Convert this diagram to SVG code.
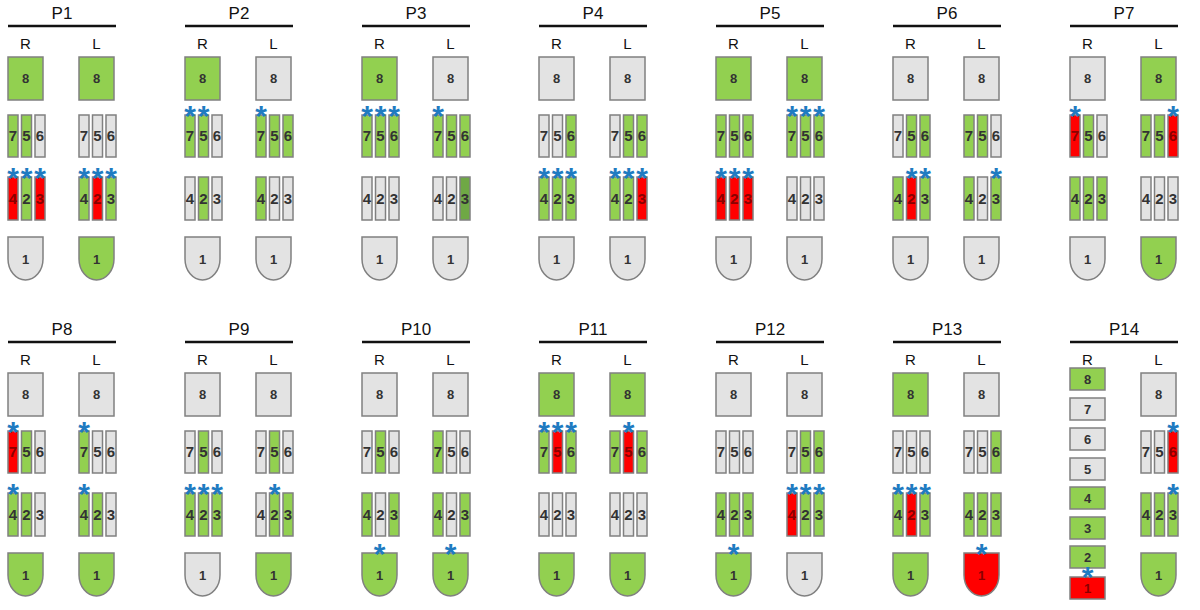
<svg xmlns="http://www.w3.org/2000/svg" width="1200" height="610" viewBox="0 0 1200 610">
<style>
rect,path{stroke:#808080;stroke-width:1.5}
.g{fill:#92d050}.e{fill:#e3e3e3}.r{fill:#ff0000}.d{fill:#6fa845}
text{font-family:"Liberation Sans",Arial,sans-serif;text-anchor:middle}
.t{font-size:17px;fill:#111}.h{font-size:15px;fill:#111}
.n{font-size:13px;font-weight:bold;fill:#333}.b{font-size:15px;font-weight:bold;fill:#333}
.nr{fill:#8a0000}
.s{font-size:30px;font-weight:bold;fill:#1f7bc1}
line{stroke:#111;stroke-width:2.5}
</style>
<defs>
<path id="one" d="M0,0h35v22a17.5,21 0 0 1 -35 0z"/>
</defs>
<g id="connectors"></g>

<g id="P1" transform="translate(8,0)">
<text class="t" x="54" y="19">P1</text><line x1="0" y1="26" x2="108" y2="26"/>
<text class="h" x="17.5" y="49">R</text><text class="h" x="88.5" y="49">L</text>
<g id="P1R"><rect class="g" x="0" y="57" width="35" height="43"/><text class="n" x="17.5" y="83">8</text>
<rect class="g" x="0" y="115" width="10" height="42"/><rect class="g" x="13.5" y="115" width="10" height="42"/><rect class="e" x="27" y="115" width="10" height="42"/>
<text class="b" x="5" y="141">7</text><text class="b" x="18.5" y="141">5</text><text class="b" x="32" y="141">6</text>
<rect class="r" x="0" y="177" width="10" height="43"/><rect class="g" x="13.5" y="177" width="10" height="43"/><rect class="r" x="27" y="177" width="10" height="43"/>
<text class="b nr" x="5" y="204">4</text><text class="b" x="18.5" y="204">2</text><text class="b nr" x="32" y="204">3</text>
<text class="s" x="5" y="188">*</text><text class="s" x="18.5" y="188">*</text><text class="s" x="32" y="188">*</text>
<use href="#one" class="e" x="0" y="237"/><text class="n" x="17.5" y="264">1</text></g>
<g id="P1L" transform="translate(71,0)"><rect class="g" x="0" y="57" width="35" height="43"/><text class="n" x="17.5" y="83">8</text>
<rect class="e" x="0" y="115" width="10" height="42"/><rect class="e" x="13.5" y="115" width="10" height="42"/><rect class="e" x="27" y="115" width="10" height="42"/>
<text class="b" x="5" y="141">7</text><text class="b" x="18.5" y="141">5</text><text class="b" x="32" y="141">6</text>
<rect class="g" x="0" y="177" width="10" height="43"/><rect class="r" x="13.5" y="177" width="10" height="43"/><rect class="g" x="27" y="177" width="10" height="43"/>
<text class="b" x="5" y="204">4</text><text class="b nr" x="18.5" y="204">2</text><text class="b" x="32" y="204">3</text>
<text class="s" x="5" y="188">*</text><text class="s" x="18.5" y="188">*</text><text class="s" x="32" y="188">*</text>
<use href="#one" class="g" x="0" y="237"/><text class="n" x="17.5" y="264">1</text></g>
</g>

<g id="P2" transform="translate(185,0)">
<text class="t" x="54" y="19">P2</text><line x1="0" y1="26" x2="108" y2="26"/>
<text class="h" x="17.5" y="49">R</text><text class="h" x="88.5" y="49">L</text>
<g id="P2R"><rect class="g" x="0" y="57" width="35" height="43"/><text class="n" x="17.5" y="83">8</text>
<rect class="g" x="0" y="115" width="10" height="42"/><rect class="g" x="13.5" y="115" width="10" height="42"/><rect class="e" x="27" y="115" width="10" height="42"/>
<text class="b" x="5" y="141">7</text><text class="b" x="18.5" y="141">5</text><text class="b" x="32" y="141">6</text>
<text class="s" x="5" y="126">*</text><text class="s" x="18.5" y="126">*</text>
<rect class="e" x="0" y="177" width="10" height="43"/><rect class="g" x="13.5" y="177" width="10" height="43"/><rect class="e" x="27" y="177" width="10" height="43"/>
<text class="b" x="5" y="204">4</text><text class="b" x="18.5" y="204">2</text><text class="b" x="32" y="204">3</text>
<use href="#one" class="e" x="0" y="237"/><text class="n" x="17.5" y="264">1</text></g>
<g id="P2L" transform="translate(71,0)"><rect class="e" x="0" y="57" width="35" height="43"/><text class="n" x="17.5" y="83">8</text>
<rect class="g" x="0" y="115" width="10" height="42"/><rect class="g" x="13.5" y="115" width="10" height="42"/><rect class="g" x="27" y="115" width="10" height="42"/>
<text class="b" x="5" y="141">7</text><text class="b" x="18.5" y="141">5</text><text class="b" x="32" y="141">6</text>
<text class="s" x="5" y="126">*</text>
<rect class="g" x="0" y="177" width="10" height="43"/><rect class="e" x="13.5" y="177" width="10" height="43"/><rect class="e" x="27" y="177" width="10" height="43"/>
<text class="b" x="5" y="204">4</text><text class="b" x="18.5" y="204">2</text><text class="b" x="32" y="204">3</text>
<use href="#one" class="e" x="0" y="237"/><text class="n" x="17.5" y="264">1</text></g>
</g>

<g id="P3" transform="translate(362,0)">
<text class="t" x="54" y="19">P3</text><line x1="0" y1="26" x2="108" y2="26"/>
<text class="h" x="17.5" y="49">R</text><text class="h" x="88.5" y="49">L</text>
<g id="P3R"><rect class="g" x="0" y="57" width="35" height="43"/><text class="n" x="17.5" y="83">8</text>
<rect class="g" x="0" y="115" width="10" height="42"/><rect class="g" x="13.5" y="115" width="10" height="42"/><rect class="g" x="27" y="115" width="10" height="42"/>
<text class="b" x="5" y="141">7</text><text class="b" x="18.5" y="141">5</text><text class="b" x="32" y="141">6</text>
<text class="s" x="5" y="126">*</text><text class="s" x="18.5" y="126">*</text><text class="s" x="32" y="126">*</text>
<rect class="e" x="0" y="177" width="10" height="43"/><rect class="e" x="13.5" y="177" width="10" height="43"/><rect class="e" x="27" y="177" width="10" height="43"/>
<text class="b" x="5" y="204">4</text><text class="b" x="18.5" y="204">2</text><text class="b" x="32" y="204">3</text>
<use href="#one" class="e" x="0" y="237"/><text class="n" x="17.5" y="264">1</text></g>
<g id="P3L" transform="translate(71,0)"><rect class="e" x="0" y="57" width="35" height="43"/><text class="n" x="17.5" y="83">8</text>
<rect class="g" x="0" y="115" width="10" height="42"/><rect class="g" x="13.5" y="115" width="10" height="42"/><rect class="g" x="27" y="115" width="10" height="42"/>
<text class="b" x="5" y="141">7</text><text class="b" x="18.5" y="141">5</text><text class="b" x="32" y="141">6</text>
<text class="s" x="5" y="126">*</text>
<rect class="e" x="0" y="177" width="10" height="43"/><rect class="e" x="13.5" y="177" width="10" height="43"/><rect class="d" x="27" y="177" width="10" height="43"/>
<text class="b" x="5" y="204">4</text><text class="b" x="18.5" y="204">2</text><text class="b" x="32" y="204">3</text>
<use href="#one" class="e" x="0" y="237"/><text class="n" x="17.5" y="264">1</text></g>
</g>

<g id="P4" transform="translate(539,0)">
<text class="t" x="54" y="19">P4</text><line x1="0" y1="26" x2="108" y2="26"/>
<text class="h" x="17.5" y="49">R</text><text class="h" x="88.5" y="49">L</text>
<g id="P4R"><rect class="e" x="0" y="57" width="35" height="43"/><text class="n" x="17.5" y="83">8</text>
<rect class="e" x="0" y="115" width="10" height="42"/><rect class="e" x="13.5" y="115" width="10" height="42"/><rect class="g" x="27" y="115" width="10" height="42"/>
<text class="b" x="5" y="141">7</text><text class="b" x="18.5" y="141">5</text><text class="b" x="32" y="141">6</text>
<rect class="g" x="0" y="177" width="10" height="43"/><rect class="g" x="13.5" y="177" width="10" height="43"/><rect class="g" x="27" y="177" width="10" height="43"/>
<text class="b" x="5" y="204">4</text><text class="b" x="18.5" y="204">2</text><text class="b" x="32" y="204">3</text>
<text class="s" x="5" y="188">*</text><text class="s" x="18.5" y="188">*</text><text class="s" x="32" y="188">*</text>
<use href="#one" class="e" x="0" y="237"/><text class="n" x="17.5" y="264">1</text></g>
<g id="P4L" transform="translate(71,0)"><rect class="e" x="0" y="57" width="35" height="43"/><text class="n" x="17.5" y="83">8</text>
<rect class="e" x="0" y="115" width="10" height="42"/><rect class="g" x="13.5" y="115" width="10" height="42"/><rect class="g" x="27" y="115" width="10" height="42"/>
<text class="b" x="5" y="141">7</text><text class="b" x="18.5" y="141">5</text><text class="b" x="32" y="141">6</text>
<rect class="g" x="0" y="177" width="10" height="43"/><rect class="g" x="13.5" y="177" width="10" height="43"/><rect class="r" x="27" y="177" width="10" height="43"/>
<text class="b" x="5" y="204">4</text><text class="b" x="18.5" y="204">2</text><text class="b nr" x="32" y="204">3</text>
<text class="s" x="5" y="188">*</text><text class="s" x="18.5" y="188">*</text><text class="s" x="32" y="188">*</text>
<use href="#one" class="e" x="0" y="237"/><text class="n" x="17.5" y="264">1</text></g>
</g>

<g id="P5" transform="translate(716,0)">
<text class="t" x="54" y="19">P5</text><line x1="0" y1="26" x2="108" y2="26"/>
<text class="h" x="17.5" y="49">R</text><text class="h" x="88.5" y="49">L</text>
<g id="P5R"><rect class="g" x="0" y="57" width="35" height="43"/><text class="n" x="17.5" y="83">8</text>
<rect class="g" x="0" y="115" width="10" height="42"/><rect class="g" x="13.5" y="115" width="10" height="42"/><rect class="g" x="27" y="115" width="10" height="42"/>
<text class="b" x="5" y="141">7</text><text class="b" x="18.5" y="141">5</text><text class="b" x="32" y="141">6</text>
<rect class="r" x="0" y="177" width="10" height="43"/><rect class="r" x="13.5" y="177" width="10" height="43"/><rect class="r" x="27" y="177" width="10" height="43"/>
<text class="b nr" x="5" y="204">4</text><text class="b nr" x="18.5" y="204">2</text><text class="b nr" x="32" y="204">3</text>
<text class="s" x="5" y="188">*</text><text class="s" x="18.5" y="188">*</text><text class="s" x="32" y="188">*</text>
<use href="#one" class="e" x="0" y="237"/><text class="n" x="17.5" y="264">1</text></g>
<g id="P5L" transform="translate(71,0)"><rect class="g" x="0" y="57" width="35" height="43"/><text class="n" x="17.5" y="83">8</text>
<rect class="g" x="0" y="115" width="10" height="42"/><rect class="g" x="13.5" y="115" width="10" height="42"/><rect class="g" x="27" y="115" width="10" height="42"/>
<text class="b" x="5" y="141">7</text><text class="b" x="18.5" y="141">5</text><text class="b" x="32" y="141">6</text>
<text class="s" x="5" y="126">*</text><text class="s" x="18.5" y="126">*</text><text class="s" x="32" y="126">*</text>
<rect class="e" x="0" y="177" width="10" height="43"/><rect class="e" x="13.5" y="177" width="10" height="43"/><rect class="e" x="27" y="177" width="10" height="43"/>
<text class="b" x="5" y="204">4</text><text class="b" x="18.5" y="204">2</text><text class="b" x="32" y="204">3</text>
<use href="#one" class="e" x="0" y="237"/><text class="n" x="17.5" y="264">1</text></g>
</g>

<g id="P6" transform="translate(893,0)">
<text class="t" x="54" y="19">P6</text><line x1="0" y1="26" x2="108" y2="26"/>
<text class="h" x="17.5" y="49">R</text><text class="h" x="88.5" y="49">L</text>
<g id="P6R"><rect class="e" x="0" y="57" width="35" height="43"/><text class="n" x="17.5" y="83">8</text>
<rect class="e" x="0" y="115" width="10" height="42"/><rect class="g" x="13.5" y="115" width="10" height="42"/><rect class="g" x="27" y="115" width="10" height="42"/>
<text class="b" x="5" y="141">7</text><text class="b" x="18.5" y="141">5</text><text class="b" x="32" y="141">6</text>
<rect class="g" x="0" y="177" width="10" height="43"/><rect class="r" x="13.5" y="177" width="10" height="43"/><rect class="g" x="27" y="177" width="10" height="43"/>
<text class="b" x="5" y="204">4</text><text class="b nr" x="18.5" y="204">2</text><text class="b" x="32" y="204">3</text>
<text class="s" x="18.5" y="188">*</text><text class="s" x="32" y="188">*</text>
<use href="#one" class="e" x="0" y="237"/><text class="n" x="17.5" y="264">1</text></g>
<g id="P6L" transform="translate(71,0)"><rect class="e" x="0" y="57" width="35" height="43"/><text class="n" x="17.5" y="83">8</text>
<rect class="g" x="0" y="115" width="10" height="42"/><rect class="g" x="13.5" y="115" width="10" height="42"/><rect class="e" x="27" y="115" width="10" height="42"/>
<text class="b" x="5" y="141">7</text><text class="b" x="18.5" y="141">5</text><text class="b" x="32" y="141">6</text>
<rect class="g" x="0" y="177" width="10" height="43"/><rect class="e" x="13.5" y="177" width="10" height="43"/><rect class="g" x="27" y="177" width="10" height="43"/>
<text class="b" x="5" y="204">4</text><text class="b" x="18.5" y="204">2</text><text class="b" x="32" y="204">3</text>
<text class="s" x="32" y="188">*</text>
<use href="#one" class="e" x="0" y="237"/><text class="n" x="17.5" y="264">1</text></g>
</g>

<g id="P7" transform="translate(1070,0)">
<text class="t" x="54" y="19">P7</text><line x1="0" y1="26" x2="108" y2="26"/>
<text class="h" x="17.5" y="49">R</text><text class="h" x="88.5" y="49">L</text>
<g id="P7R"><rect class="e" x="0" y="57" width="35" height="43"/><text class="n" x="17.5" y="83">8</text>
<rect class="r" x="0" y="115" width="10" height="42"/><rect class="g" x="13.5" y="115" width="10" height="42"/><rect class="e" x="27" y="115" width="10" height="42"/>
<text class="b nr" x="5" y="141">7</text><text class="b" x="18.5" y="141">5</text><text class="b" x="32" y="141">6</text>
<text class="s" x="5" y="126">*</text>
<rect class="g" x="0" y="177" width="10" height="43"/><rect class="g" x="13.5" y="177" width="10" height="43"/><rect class="g" x="27" y="177" width="10" height="43"/>
<text class="b" x="5" y="204">4</text><text class="b" x="18.5" y="204">2</text><text class="b" x="32" y="204">3</text>
<use href="#one" class="e" x="0" y="237"/><text class="n" x="17.5" y="264">1</text></g>
<g id="P7L" transform="translate(71,0)"><rect class="g" x="0" y="57" width="35" height="43"/><text class="n" x="17.5" y="83">8</text>
<rect class="g" x="0" y="115" width="10" height="42"/><rect class="g" x="13.5" y="115" width="10" height="42"/><rect class="r" x="27" y="115" width="10" height="42"/>
<text class="b" x="5" y="141">7</text><text class="b" x="18.5" y="141">5</text><text class="b nr" x="32" y="141">6</text>
<text class="s" x="32" y="126">*</text>
<rect class="e" x="0" y="177" width="10" height="43"/><rect class="e" x="13.5" y="177" width="10" height="43"/><rect class="e" x="27" y="177" width="10" height="43"/>
<text class="b" x="5" y="204">4</text><text class="b" x="18.5" y="204">2</text><text class="b" x="32" y="204">3</text>
<use href="#one" class="g" x="0" y="237"/><text class="n" x="17.5" y="264">1</text></g>
</g>

<g id="P8" transform="translate(8,316)">
<text class="t" x="54" y="19">P8</text><line x1="0" y1="26" x2="108" y2="26"/>
<text class="h" x="17.5" y="49">R</text><text class="h" x="88.5" y="49">L</text>
<g id="P8R"><rect class="e" x="0" y="57" width="35" height="43"/><text class="n" x="17.5" y="83">8</text>
<rect class="r" x="0" y="115" width="10" height="42"/><rect class="g" x="13.5" y="115" width="10" height="42"/><rect class="e" x="27" y="115" width="10" height="42"/>
<text class="b nr" x="5" y="141">7</text><text class="b" x="18.5" y="141">5</text><text class="b" x="32" y="141">6</text>
<text class="s" x="5" y="126">*</text>
<rect class="g" x="0" y="177" width="10" height="43"/><rect class="g" x="13.5" y="177" width="10" height="43"/><rect class="e" x="27" y="177" width="10" height="43"/>
<text class="b" x="5" y="204">4</text><text class="b" x="18.5" y="204">2</text><text class="b" x="32" y="204">3</text>
<text class="s" x="5" y="188">*</text>
<use href="#one" class="g" x="0" y="237"/><text class="n" x="17.5" y="264">1</text></g>
<g id="P8L" transform="translate(71,0)"><rect class="e" x="0" y="57" width="35" height="43"/><text class="n" x="17.5" y="83">8</text>
<rect class="g" x="0" y="115" width="10" height="42"/><rect class="e" x="13.5" y="115" width="10" height="42"/><rect class="e" x="27" y="115" width="10" height="42"/>
<text class="b" x="5" y="141">7</text><text class="b" x="18.5" y="141">5</text><text class="b" x="32" y="141">6</text>
<text class="s" x="5" y="126">*</text>
<rect class="g" x="0" y="177" width="10" height="43"/><rect class="g" x="13.5" y="177" width="10" height="43"/><rect class="e" x="27" y="177" width="10" height="43"/>
<text class="b" x="5" y="204">4</text><text class="b" x="18.5" y="204">2</text><text class="b" x="32" y="204">3</text>
<text class="s" x="5" y="188">*</text>
<use href="#one" class="g" x="0" y="237"/><text class="n" x="17.5" y="264">1</text></g>
</g>

<g id="P9" transform="translate(185,316)">
<text class="t" x="54" y="19">P9</text><line x1="0" y1="26" x2="108" y2="26"/>
<text class="h" x="17.5" y="49">R</text><text class="h" x="88.5" y="49">L</text>
<g id="P9R"><rect class="e" x="0" y="57" width="35" height="43"/><text class="n" x="17.5" y="83">8</text>
<rect class="e" x="0" y="115" width="10" height="42"/><rect class="g" x="13.5" y="115" width="10" height="42"/><rect class="e" x="27" y="115" width="10" height="42"/>
<text class="b" x="5" y="141">7</text><text class="b" x="18.5" y="141">5</text><text class="b" x="32" y="141">6</text>
<rect class="g" x="0" y="177" width="10" height="43"/><rect class="g" x="13.5" y="177" width="10" height="43"/><rect class="g" x="27" y="177" width="10" height="43"/>
<text class="b" x="5" y="204">4</text><text class="b" x="18.5" y="204">2</text><text class="b" x="32" y="204">3</text>
<text class="s" x="5" y="188">*</text><text class="s" x="18.5" y="188">*</text><text class="s" x="32" y="188">*</text>
<use href="#one" class="e" x="0" y="237"/><text class="n" x="17.5" y="264">1</text></g>
<g id="P9L" transform="translate(71,0)"><rect class="e" x="0" y="57" width="35" height="43"/><text class="n" x="17.5" y="83">8</text>
<rect class="e" x="0" y="115" width="10" height="42"/><rect class="g" x="13.5" y="115" width="10" height="42"/><rect class="e" x="27" y="115" width="10" height="42"/>
<text class="b" x="5" y="141">7</text><text class="b" x="18.5" y="141">5</text><text class="b" x="32" y="141">6</text>
<rect class="e" x="0" y="177" width="10" height="43"/><rect class="g" x="13.5" y="177" width="10" height="43"/><rect class="g" x="27" y="177" width="10" height="43"/>
<text class="b" x="5" y="204">4</text><text class="b" x="18.5" y="204">2</text><text class="b" x="32" y="204">3</text>
<text class="s" x="18.5" y="188">*</text>
<use href="#one" class="g" x="0" y="237"/><text class="n" x="17.5" y="264">1</text></g>
</g>

<g id="P10" transform="translate(362,316)">
<text class="t" x="54" y="19">P10</text><line x1="0" y1="26" x2="108" y2="26"/>
<text class="h" x="17.5" y="49">R</text><text class="h" x="88.5" y="49">L</text>
<g id="P10R"><rect class="e" x="0" y="57" width="35" height="43"/><text class="n" x="17.5" y="83">8</text>
<rect class="e" x="0" y="115" width="10" height="42"/><rect class="g" x="13.5" y="115" width="10" height="42"/><rect class="e" x="27" y="115" width="10" height="42"/>
<text class="b" x="5" y="141">7</text><text class="b" x="18.5" y="141">5</text><text class="b" x="32" y="141">6</text>
<rect class="g" x="0" y="177" width="10" height="43"/><rect class="e" x="13.5" y="177" width="10" height="43"/><rect class="g" x="27" y="177" width="10" height="43"/>
<text class="b" x="5" y="204">4</text><text class="b" x="18.5" y="204">2</text><text class="b" x="32" y="204">3</text>
<use href="#one" class="g" x="0" y="237"/><text class="n" x="17.5" y="264">1</text>
<text class="s" x="17.5" y="248">*</text></g>
<g id="P10L" transform="translate(71,0)"><rect class="e" x="0" y="57" width="35" height="43"/><text class="n" x="17.5" y="83">8</text>
<rect class="g" x="0" y="115" width="10" height="42"/><rect class="e" x="13.5" y="115" width="10" height="42"/><rect class="e" x="27" y="115" width="10" height="42"/>
<text class="b" x="5" y="141">7</text><text class="b" x="18.5" y="141">5</text><text class="b" x="32" y="141">6</text>
<rect class="g" x="0" y="177" width="10" height="43"/><rect class="e" x="13.5" y="177" width="10" height="43"/><rect class="g" x="27" y="177" width="10" height="43"/>
<text class="b" x="5" y="204">4</text><text class="b" x="18.5" y="204">2</text><text class="b" x="32" y="204">3</text>
<use href="#one" class="g" x="0" y="237"/><text class="n" x="17.5" y="264">1</text>
<text class="s" x="17.5" y="248">*</text></g>
</g>

<g id="P11" transform="translate(539,316)">
<text class="t" x="54" y="19">P11</text><line x1="0" y1="26" x2="108" y2="26"/>
<text class="h" x="17.5" y="49">R</text><text class="h" x="88.5" y="49">L</text>
<g id="P11R"><rect class="g" x="0" y="57" width="35" height="43"/><text class="n" x="17.5" y="83">8</text>
<rect class="g" x="0" y="115" width="10" height="42"/><rect class="r" x="13.5" y="115" width="10" height="42"/><rect class="g" x="27" y="115" width="10" height="42"/>
<text class="b" x="5" y="141">7</text><text class="b nr" x="18.5" y="141">5</text><text class="b" x="32" y="141">6</text>
<text class="s" x="5" y="126">*</text><text class="s" x="18.5" y="126">*</text><text class="s" x="32" y="126">*</text>
<rect class="e" x="0" y="177" width="10" height="43"/><rect class="e" x="13.5" y="177" width="10" height="43"/><rect class="e" x="27" y="177" width="10" height="43"/>
<text class="b" x="5" y="204">4</text><text class="b" x="18.5" y="204">2</text><text class="b" x="32" y="204">3</text>
<use href="#one" class="g" x="0" y="237"/><text class="n" x="17.5" y="264">1</text></g>
<g id="P11L" transform="translate(71,0)"><rect class="g" x="0" y="57" width="35" height="43"/><text class="n" x="17.5" y="83">8</text>
<rect class="g" x="0" y="115" width="10" height="42"/><rect class="r" x="13.5" y="115" width="10" height="42"/><rect class="g" x="27" y="115" width="10" height="42"/>
<text class="b" x="5" y="141">7</text><text class="b nr" x="18.5" y="141">5</text><text class="b" x="32" y="141">6</text>
<text class="s" x="18.5" y="126">*</text>
<rect class="e" x="0" y="177" width="10" height="43"/><rect class="e" x="13.5" y="177" width="10" height="43"/><rect class="e" x="27" y="177" width="10" height="43"/>
<text class="b" x="5" y="204">4</text><text class="b" x="18.5" y="204">2</text><text class="b" x="32" y="204">3</text>
<use href="#one" class="g" x="0" y="237"/><text class="n" x="17.5" y="264">1</text></g>
</g>

<g id="P12" transform="translate(716,316)">
<text class="t" x="54" y="19">P12</text><line x1="0" y1="26" x2="108" y2="26"/>
<text class="h" x="17.5" y="49">R</text><text class="h" x="88.5" y="49">L</text>
<g id="P12R"><rect class="e" x="0" y="57" width="35" height="43"/><text class="n" x="17.5" y="83">8</text>
<rect class="e" x="0" y="115" width="10" height="42"/><rect class="e" x="13.5" y="115" width="10" height="42"/><rect class="e" x="27" y="115" width="10" height="42"/>
<text class="b" x="5" y="141">7</text><text class="b" x="18.5" y="141">5</text><text class="b" x="32" y="141">6</text>
<rect class="g" x="0" y="177" width="10" height="43"/><rect class="g" x="13.5" y="177" width="10" height="43"/><rect class="g" x="27" y="177" width="10" height="43"/>
<text class="b" x="5" y="204">4</text><text class="b" x="18.5" y="204">2</text><text class="b" x="32" y="204">3</text>
<use href="#one" class="g" x="0" y="237"/><text class="n" x="17.5" y="264">1</text>
<text class="s" x="17.5" y="248">*</text></g>
<g id="P12L" transform="translate(71,0)"><rect class="e" x="0" y="57" width="35" height="43"/><text class="n" x="17.5" y="83">8</text>
<rect class="e" x="0" y="115" width="10" height="42"/><rect class="g" x="13.5" y="115" width="10" height="42"/><rect class="g" x="27" y="115" width="10" height="42"/>
<text class="b" x="5" y="141">7</text><text class="b" x="18.5" y="141">5</text><text class="b" x="32" y="141">6</text>
<rect class="r" x="0" y="177" width="10" height="43"/><rect class="g" x="13.5" y="177" width="10" height="43"/><rect class="g" x="27" y="177" width="10" height="43"/>
<text class="b nr" x="5" y="204">4</text><text class="b" x="18.5" y="204">2</text><text class="b" x="32" y="204">3</text>
<text class="s" x="5" y="188">*</text><text class="s" x="18.5" y="188">*</text><text class="s" x="32" y="188">*</text>
<use href="#one" class="e" x="0" y="237"/><text class="n" x="17.5" y="264">1</text></g>
</g>

<g id="P13" transform="translate(893,316)">
<text class="t" x="54" y="19">P13</text><line x1="0" y1="26" x2="108" y2="26"/>
<text class="h" x="17.5" y="49">R</text><text class="h" x="88.5" y="49">L</text>
<g id="P13R"><rect class="g" x="0" y="57" width="35" height="43"/><text class="n" x="17.5" y="83">8</text>
<rect class="e" x="0" y="115" width="10" height="42"/><rect class="e" x="13.5" y="115" width="10" height="42"/><rect class="e" x="27" y="115" width="10" height="42"/>
<text class="b" x="5" y="141">7</text><text class="b" x="18.5" y="141">5</text><text class="b" x="32" y="141">6</text>
<rect class="g" x="0" y="177" width="10" height="43"/><rect class="r" x="13.5" y="177" width="10" height="43"/><rect class="g" x="27" y="177" width="10" height="43"/>
<text class="b" x="5" y="204">4</text><text class="b nr" x="18.5" y="204">2</text><text class="b" x="32" y="204">3</text>
<text class="s" x="5" y="188">*</text><text class="s" x="18.5" y="188">*</text><text class="s" x="32" y="188">*</text>
<use href="#one" class="g" x="0" y="237"/><text class="n" x="17.5" y="264">1</text></g>
<g id="P13L" transform="translate(71,0)"><rect class="e" x="0" y="57" width="35" height="43"/><text class="n" x="17.5" y="83">8</text>
<rect class="e" x="0" y="115" width="10" height="42"/><rect class="e" x="13.5" y="115" width="10" height="42"/><rect class="g" x="27" y="115" width="10" height="42"/>
<text class="b" x="5" y="141">7</text><text class="b" x="18.5" y="141">5</text><text class="b" x="32" y="141">6</text>
<rect class="g" x="0" y="177" width="10" height="43"/><rect class="g" x="13.5" y="177" width="10" height="43"/><rect class="g" x="27" y="177" width="10" height="43"/>
<text class="b" x="5" y="204">4</text><text class="b" x="18.5" y="204">2</text><text class="b" x="32" y="204">3</text>
<use href="#one" class="r" x="0" y="237"/><text class="n nr" x="17.5" y="264">1</text>
<text class="s" x="17.5" y="248">*</text></g>
</g>

<g id="P14" transform="translate(1070,316)">
<text class="t" x="54" y="19">P14</text><line x1="0" y1="26" x2="108" y2="26"/>
<text class="h" x="17.5" y="49">R</text><text class="h" x="88.5" y="49">L</text>
<g id="P14R">
<rect class="g" x="0" y="52" width="35" height="22"/><text class="n" x="17.5" y="68">8</text>
<rect class="e" x="0" y="82" width="35" height="22"/><text class="n" x="17.5" y="98">7</text>
<rect class="e" x="0" y="112" width="35" height="22"/><text class="n" x="17.5" y="128">6</text>
<rect class="e" x="0" y="142" width="35" height="22"/><text class="n" x="17.5" y="158">5</text>
<rect class="g" x="0" y="171" width="35" height="22"/><text class="n" x="17.5" y="187">4</text>
<rect class="g" x="0" y="201" width="35" height="22"/><text class="n" x="17.5" y="217">3</text>
<rect class="g" x="0" y="230" width="35" height="22"/><text class="n" x="17.5" y="246">2</text>
<rect class="r" x="0" y="261" width="35" height="22"/><text class="n nr" x="17.5" y="277">1</text>
<text class="s" x="17.5" y="271">*</text></g>
<g id="P14L" transform="translate(71,0)"><rect class="e" x="0" y="57" width="35" height="43"/><text class="n" x="17.5" y="83">8</text>
<rect class="e" x="0" y="115" width="10" height="42"/><rect class="e" x="13.5" y="115" width="10" height="42"/><rect class="r" x="27" y="115" width="10" height="42"/>
<text class="b" x="5" y="141">7</text><text class="b" x="18.5" y="141">5</text><text class="b nr" x="32" y="141">6</text>
<text class="s" x="32" y="126">*</text>
<rect class="g" x="0" y="177" width="10" height="43"/><rect class="g" x="13.5" y="177" width="10" height="43"/><rect class="g" x="27" y="177" width="10" height="43"/>
<text class="b" x="5" y="204">4</text><text class="b" x="18.5" y="204">2</text><text class="b" x="32" y="204">3</text>
<text class="s" x="32" y="188">*</text>
<use href="#one" class="g" x="0" y="237"/><text class="n" x="17.5" y="264">1</text></g>
</g>
</svg>
